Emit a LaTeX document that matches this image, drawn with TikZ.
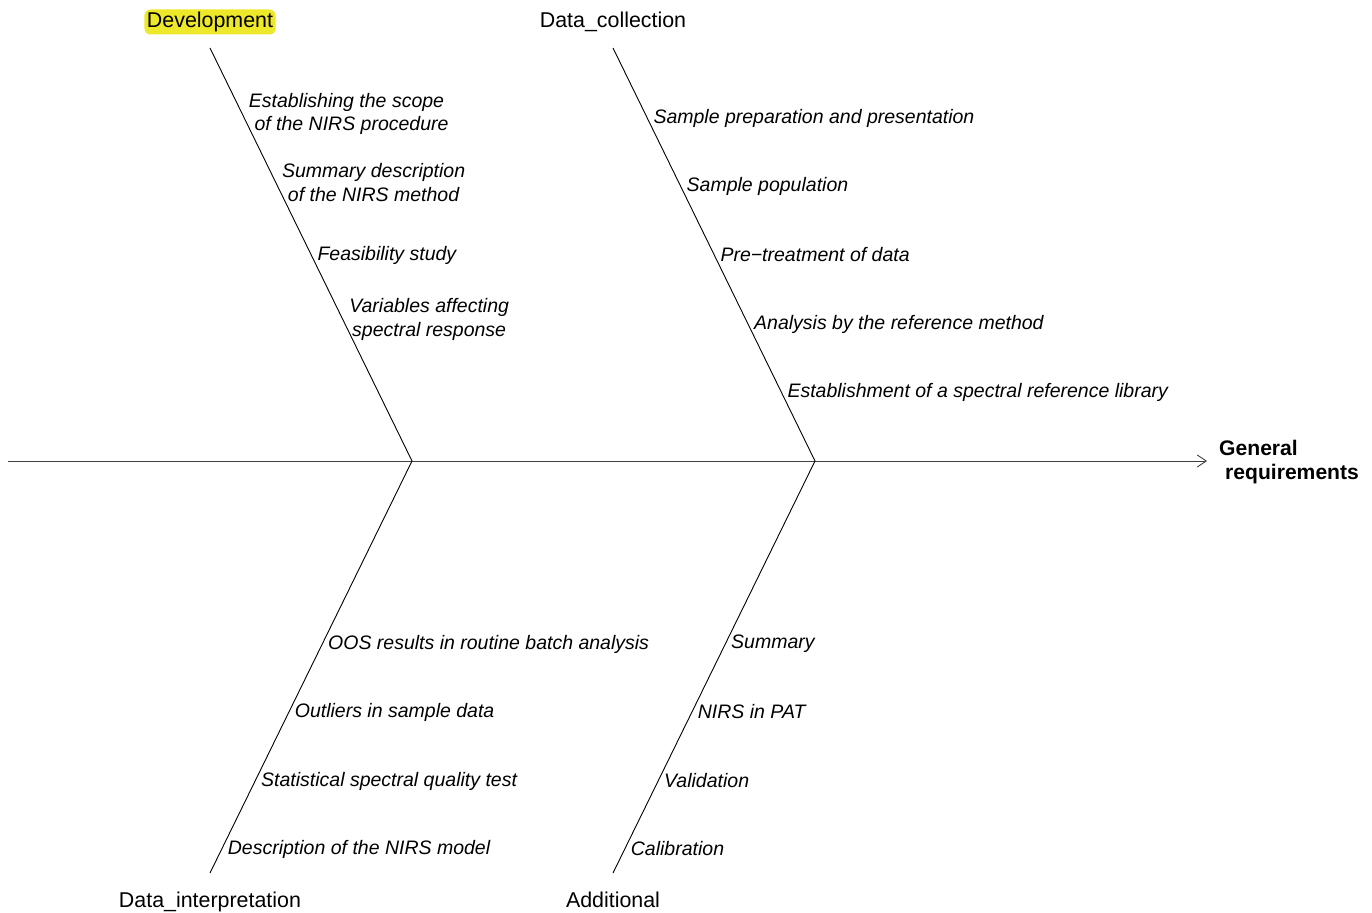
\documentclass[tikz,border=0pt]{standalone}
\usepackage{fontspec}
\setmainfont{Liberation Sans}
\usetikzlibrary{arrows.meta}
\definecolor{hl}{HTML}{EEE82A}
\begin{document}
\begin{tikzpicture}[x=1pt,y=-1pt,
  every node/.style={font=\fontsize{21.4}{24}\selectfont, inner sep=0pt},
  cat/.style={anchor=center, text height=15.5pt, text depth=4.5pt},
  topitem/.style={anchor=west, xshift=7pt, yshift=-2pt, font=\fontsize{19.5}{23.8}\selectfont\itshape, align=center},
  botitem/.style={anchor=west, xshift=4.5pt, yshift=-2pt, font=\fontsize{19.5}{23.8}\selectfont\itshape, align=center},
  bone/.style={line width=0.9pt, black},
  spine/.style={line width=1pt, black!75, -{Straight Barb[length=9pt,width=12pt,line width=0.9pt]}}]
\useasboundingbox (0,0) rectangle (1372,912);
% spine
\coordinate (tail) at (8,461);
\coordinate (j1) at (412,461);
\coordinate (j2) at (815,461);
\coordinate (tip) at (1207,461);
\draw[spine] (tail) -- (tip);
\node[anchor=west, yshift=-1pt, font=\fontsize{21.1}{24.5}\selectfont\bfseries, align=left] (effect) at (1219,461) {General\\\hspace*{6pt}requirements};
% branch ends
\coordinate (devtop) at (210,48);
\coordinate (dctop) at (613,48);
\coordinate (ditop) at (210,873);
\coordinate (adtop) at (613,873);
\draw[bone] (devtop) -- (j1);
\draw[bone] (dctop) -- (j2);
\draw[bone] (ditop) -- (j1);
\draw[bone] (adtop) -- (j2);
% category labels
\node[cat, fill=hl, rounded corners=6pt, inner xsep=2.5pt, inner ysep=2.5pt] (dev) at (210,22) {Development};
\node[cat] (dc) at (613,22) {Data\_collection};
\node[cat] (di) at (210,901.5) {Data\_interpretation};
\node[cat] (ad) at (613,901.5) {Additional};
% Development items
\node[topitem] (d1) at (237.3,112) {Establishing the scope\\\hspace*{10pt}of the NIRS procedure};
\node[topitem] (d2) at (274.8,180.5) {Summary description\\of the NIRS method};
\node[topitem] (d3) at (310.3,253) {Feasibility study};
\node[topitem] (d4) at (342.1,317.5) {Variables affecting\\spectral response};
% Data collection items
\node[topitem] (c1) at (646.3,116) {Sample preparation and presentation};
\node[topitem] (c2) at (679.5,184) {Sample population};
\node[topitem] (c3) at (713.3,253) {Pre\textminus treatment of data};
\node[topitem] (c4) at (747,322) {Analysis by the reference method};
\node[topitem] (c5) at (780.3,390) {Establishment of a spectral reference library};
% Data interpretation items
\node[botitem] (i1) at (323.5,642) {OOS results in routine batch analysis};
\node[botitem] (i2) at (290.2,710) {Outliers in sample data};
\node[botitem] (i3) at (256.5,779) {Statistical spectral quality test};
\node[botitem] (i4) at (223.2,847) {Description of the NIRS model};
% Additional items
\node[botitem] (a1) at (726.5,642) {Summary};
\node[botitem] (a2) at (693.2,710) {NIRS in PAT};
\node[botitem] (a3) at (659.5,779) {Validation};
\node[botitem] (a4) at (626.2,847) {Calibration};
\end{tikzpicture}
\end{document}
